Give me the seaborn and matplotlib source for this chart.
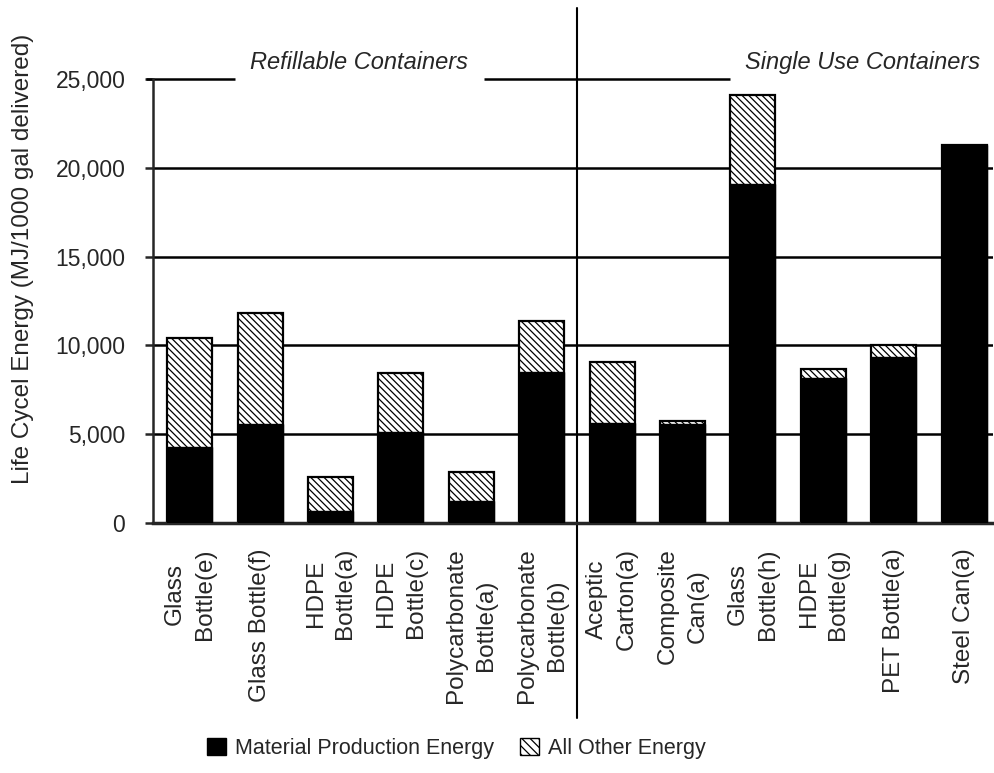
import numpy as np
import pandas as pd
import matplotlib
matplotlib.use('Agg')
import matplotlib.pyplot as plt
import matplotlib.transforms as mtransforms
from matplotlib.patches import Patch
from matplotlib.ticker import FuncFormatter
import seaborn as sns

# data (MJ / 1000 gal delivered)
containers = ['Glass\nBottle(e)', 'Glass Bottle(f)', 'HDPE\nBottle(a)', 'HDPE\nBottle(c)',
              'Polycarbonate\nBottle(a)', 'Polycarbonate\nBottle(b)',
              'Aceptic\nCarton(a)', 'Composite\nCan(a)', 'Glass\nBottle(h)', 'HDPE\nBottle(g)',
              'PET Bottle(a)', 'Steel Can(a)']
material_energy = [4300, 5600, 650, 5150, 1250, 8500, 5650, 5550, 19100, 8150, 9350, 21300]
total_energy = [10400, 11800, 2600, 8450, 2900, 11350, 9050, 5750, 24100, 8650, 10000, 21300]
y_ticks = [0, 5000, 10000, 15000, 20000, 25000]
groups = ['Refillable Containers', 'Single Use Containers']

df = pd.DataFrame({'container': containers,
                   'material': material_energy,
                   'total': total_energy})

sns.set_style('white')
plt.rcParams['font.family'] = ['Liberation Sans', 'DejaVu Sans']
plt.rcParams['hatch.linewidth'] = 0.9

fig = plt.figure(figsize=(9.94, 7.73), dpi=100)
ax = fig.add_axes([0.154, 0.3234, 0.845, 0.5744])

# gridlines (behind the bars)
for t in y_ticks[1:-1]:
    ax.axhline(t, color='black', lw=1.8, zorder=0)

# all other energy = hatched total bar, material energy drawn over it in black
sns.barplot(data=df, x='container', y='total', color='white', edgecolor='black',
            linewidth=1.6, hatch='\\\\\\\\\\', width=0.64, saturation=1, ax=ax, zorder=2)
sns.barplot(data=df, x='container', y='material', color='black', edgecolor='black',
            linewidth=1.0, width=0.64, saturation=1, ax=ax, zorder=3)

ax.set_xlim(-0.52, 11.41)
ax.set_ylim(0, 25000)
ax.set_yticks(y_ticks)
ax.yaxis.set_major_formatter(FuncFormatter(lambda v, p: f'{int(v):,}'))
ax.tick_params(axis='y', direction='out', length=6, width=1.8, labelsize=16.5, pad=14, left=True)
ax.tick_params(axis='x', length=0, labelsize=17.5, pad=18)
for lab in ax.get_xticklabels():
    lab.set_rotation(90)
    lab.set_ha('center')
    lab.set_va('top')
    lab.set_linespacing(1.45)

ax.set_xlabel('')
ax.set_ylabel('Life Cycel Energy (MJ/1000 gal delivered)', fontsize=17.5)
ax.yaxis.set_label_coords(-0.142, 0.595)

sns.despine(ax=ax, top=True, right=True)
ax.spines['left'].set_linewidth(1.8)
ax.spines['bottom'].set_linewidth(2.5)

# 25,000 line broken by the group captions
ax.hlines(25000, -0.62, 0.64, color='black', lw=1.8, clip_on=False)
ax.hlines(25000, 4.18, 7.68, color='black', lw=1.8, clip_on=False)
ax.text(2.41, 25950, groups[0], fontsize=17, fontstyle='italic', ha='center', va='center')
ax.text(9.56, 25950, groups[1], fontsize=17, fontstyle='italic', ha='center', va='center')

# divider between refillable and single use
trans = mtransforms.blended_transform_factory(ax.transData, ax.transAxes)
ax.plot([5.5, 5.5], [-0.44, 1.16], color='black', lw=1.5, transform=trans, clip_on=False)

handles = [Patch(facecolor='black', edgecolor='black', label='Material Production Energy'),
           Patch(facecolor='white', edgecolor='black', hatch='\\\\\\\\', label='All Other Energy')]
fig.legend(handles=handles, loc='center', bbox_to_anchor=(0.459, 0.032), ncol=2,
           frameon=False, fontsize=15.5, handlelength=0.9, handleheight=0.9,
           handletextpad=0.4, columnspacing=1.2)

fig.savefig('out.png', dpi=100)
